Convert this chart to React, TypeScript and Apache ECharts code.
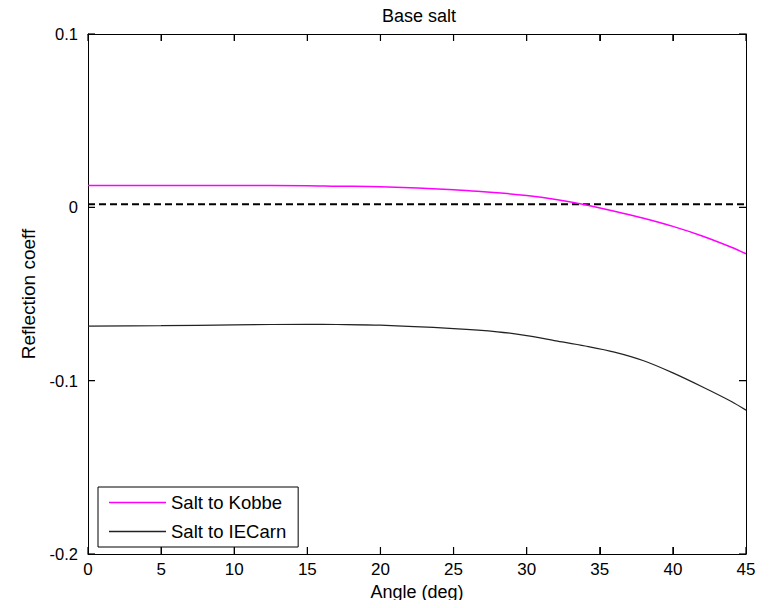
import React, { useEffect, useRef } from "react";
import * as echarts from "echarts";

const angles = [0, 5, 10, 15, 17, 20, 25, 28, 30, 32, 34, 36, 38, 40, 42, 44, 45];
const kobbe = [0.0126, 0.0126, 0.0126, 0.0125, 0.0122, 0.0119, 0.0102, 0.0084, 0.0068, 0.0045, 0.0015, -0.0022, -0.0063, -0.011, -0.0165, -0.023, -0.0268];
const iecarn = [-0.0685, -0.0683, -0.0678, -0.0675, -0.0676, -0.068, -0.07, -0.0718, -0.074, -0.077, -0.08, -0.0835, -0.0885, -0.0955, -0.1035, -0.112, -0.117];
const refLine = [0.0018, 0.0018];
const refAngles = [0, 45];
const xTicks = [0, 5, 10, 15, 20, 25, 30, 35, 40, 45];
const yTicks = [-0.2, -0.1, 0, 0.1];

const FONT = "'Liberation Sans', Arial, sans-serif";
const X_MIN = 0, X_MAX = 45, Y_MIN = -0.2, Y_MAX = 0.1;

export default function App() {
  const ref = useRef<HTMLDivElement>(null);
  useEffect(() => {
    if (!ref.current) return;
    const chart = echarts.init(ref.current, null, { renderer: "svg" });
    const axisLine = { show: true, onZero: false, lineStyle: { color: "#000", width: 1 } };
    const tickIn = { show: true, inside: true, length: 7, lineStyle: { color: "#000", width: 1 } };

    // tick marks: [x, y, side] side 0=bottom,1=top,2=left,3=right
    const tickData: number[][] = [];
    xTicks.forEach((v) => {
      tickData.push([v, Y_MIN, 0]);
      tickData.push([v, Y_MAX, 1]);
    });
    yTicks.forEach((v) => {
      tickData.push([X_MIN, v, 2]);
      tickData.push([X_MAX, v, 3]);
    });
    const L = 7;

    chart.setOption({
      animation: false,
      backgroundColor: "#fff",
      title: {
        text: "Base salt",
        left: 414,
        textAlign: "center",
        top: 2,
        textStyle: { fontFamily: FONT, fontSize: 18, fontWeight: "normal", color: "#000" },
      },
      grid: { left: 88, right: 23, top: 34, bottom: 54, containLabel: false },
      legend: {
        data: ["Salt to Kobbe", "Salt to IECarn"],
        orient: "vertical",
        left: 98,
        top: 487,
        icon: "rect",
        itemWidth: 57,
        itemHeight: 1.5,
        itemGap: 10,
        padding: [6, 12, 6, 11],
        borderColor: "#000",
        borderWidth: 1,
        backgroundColor: "#fff",
        textStyle: { fontFamily: FONT, fontSize: 18.5, color: "#000", lineHeight: 18 },
      },
      xAxis: [
        {
          type: "value",
          min: X_MIN,
          max: X_MAX,
          interval: 5,
          position: "bottom",
          name: "Angle (deg)",
          nameLocation: "middle",
          nameGap: 24,
          nameTextStyle: { fontFamily: FONT, fontSize: 18, color: "#000" },
          axisLine,
          axisTick: tickIn,
          splitLine: { show: false },
          axisLabel: {
            fontFamily: FONT,
            fontSize: 17,
            color: "#000",
            margin: 7,
            formatter: (v: number) => (xTicks.includes(v) ? String(v) : ""),
          },
        },
        {
          type: "value",
          min: X_MIN,
          max: X_MAX,
          interval: 5,
          position: "top",
          axisLine,
          axisTick: tickIn,
          axisLabel: { show: false },
          splitLine: { show: false },
        },
      ],
      yAxis: [
        {
          type: "value",
          min: Y_MIN,
          max: Y_MAX,
          interval: 0.1,
          position: "left",
          name: "Reflection coeff",
          nameLocation: "middle",
          nameGap: 50,
          nameRotate: 90,
          nameTextStyle: { fontFamily: FONT, fontSize: 19, color: "#000" },
          axisLine,
          axisTick: tickIn,
          splitLine: { show: false },
          axisLabel: {
            fontFamily: FONT,
            fontSize: 16.5,
            color: "#000",
            margin: 10,
            formatter: (v: number) => {
              const r = Math.round(v * 10) / 10;
              const t = yTicks.find((y) => Math.abs(y - r) < 1e-9);
              return t === undefined ? "" : t === 0 ? "0" : String(t);
            },
          },
        },
        {
          type: "value",
          min: Y_MIN,
          max: Y_MAX,
          interval: 0.1,
          position: "right",
          axisLine,
          axisTick: tickIn,
          axisLabel: { show: false },
          splitLine: { show: false },
        },
      ],
      series: [
        {
          name: "ticks",
          type: "custom",
          xAxisIndex: 0,
          yAxisIndex: 0,
          silent: true,
          clip: false,
          data: tickData,
          z: 5,
          renderItem: (params: any, api: any) => {
            const p = api.coord([api.value(0), api.value(1)]);
            const side = api.value(2);
            let x2 = p[0], y2 = p[1];
            if (side === 0) y2 -= L;
            else if (side === 1) y2 += L;
            else if (side === 2) x2 += L;
            else x2 -= L;
            return {
              type: "line",
              shape: { x1: p[0], y1: p[1], x2, y2 },
              style: { stroke: "#000", lineWidth: 1.2 },
            };
          },
        },
        {
          name: "ref",
          type: "line",
          xAxisIndex: 0,
          yAxisIndex: 0,
          data: refAngles.map((a, i) => [a, refLine[i]]),
          symbol: "none",
          lineStyle: { color: "#000", width: 2, type: [7, 4] },
          silent: true,
          z: 1,
        },
        {
          name: "Salt to Kobbe",
          type: "line",
          xAxisIndex: 0,
          yAxisIndex: 0,
          data: angles.map((a, i) => [a, kobbe[i]]),
          symbol: "none",
          smooth: 0.3,
          color: "#ff00ff",
          lineStyle: { color: "#ff00ff", width: 1.5 },
          z: 3,
        },
        {
          name: "Salt to IECarn",
          type: "line",
          xAxisIndex: 0,
          yAxisIndex: 0,
          data: angles.map((a, i) => [a, iecarn[i]]),
          symbol: "none",
          smooth: 0.3,
          color: "#222",
          lineStyle: { color: "#222", width: 1.2 },
          z: 2,
        },
      ],
    });
    return () => chart.dispose();
  }, []);
  return <div ref={ref} style={{ width: 769, height: 608, margin: -8 }} />;
}
